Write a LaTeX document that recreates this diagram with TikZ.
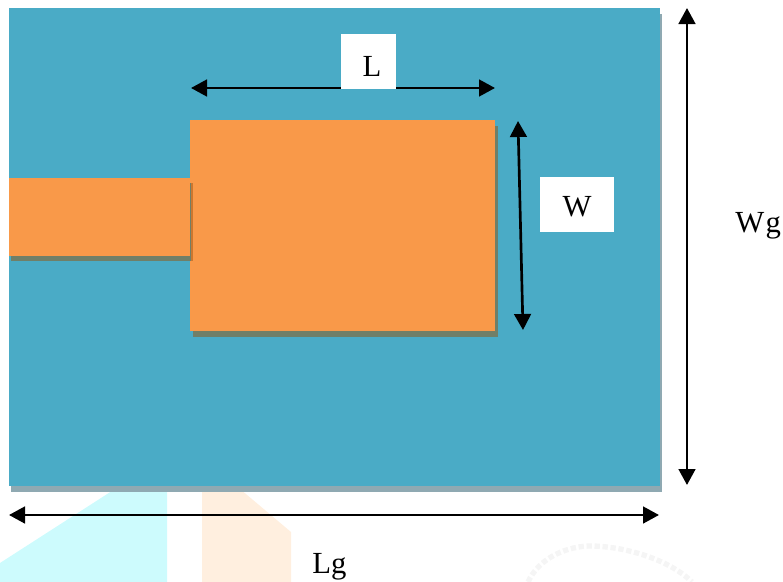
\documentclass[tikz,border=0pt]{standalone}
\usepackage{fontspec}
\setmainfont{Liberation Serif}
\usetikzlibrary{arrows.meta}
\definecolor{board}{HTML}{4AABC6}
\definecolor{boardshadow}{HTML}{8FA9B2}
\definecolor{patch}{HTML}{F99949}
\definecolor{patchshadow}{HTML}{707F68}
\definecolor{feededge}{HTML}{CC772F}
\definecolor{wmcyan}{HTML}{CDFBFD}
\definecolor{wmorange}{HTML}{FFEFDF}
\definecolor{wmgrey}{HTML}{F5F5F5}
\tikzset{
  dimline/.style={line width=2pt,{Triangle[length=12pt,width=12.5pt]}-{Triangle[length=12pt,width=12.5pt]}},
  labelbox/.style={fill=white,draw=none,inner sep=0pt,font=\fontsize{23}{26}\selectfont},
  plaintext/.style={inner sep=0pt,font=\fontsize{23}{26}\selectfont},
}
\begin{document}
\begin{tikzpicture}[x=0.75pt,y=-0.75pt]
\useasboundingbox (0,0) rectangle (783,582);
% watermark
\fill[wmcyan] (0,563) -- (115,489) -- (167,489) -- (167,582) -- (0,582) -- cycle;
\fill[wmorange] (202,489) -- (240,489) -- (291,532) -- (291,582) -- (202,582) -- cycle;
\draw[wmgrey,line width=4pt,dotted] (528,582) .. controls (540,556) and (570,546) .. (590,546) .. controls (625,546) and (670,560) .. (692,582);
% board
\fill[boardshadow] (11,14) rectangle (662,492);
\fill[board] (9,8) rectangle (660,486);
% patch
\fill[patchshadow] (193,126) rectangle (498,337);
\fill[patch] (190,120) rectangle (495,331);
% feed
\fill[patchshadow] (11,183) rectangle (193,261);
\fill[feededge] (191,183) rectangle (193,261);
\fill[patch] (9,178) rectangle (190,256);
% arrows
\coordinate (Ll) at (191,88);
\coordinate (Lr) at (495,88);
\coordinate (Wt) at (518,121);
\coordinate (Wb) at (523,330);
\coordinate (Gt) at (687,8);
\coordinate (Gb) at (687,485);
\coordinate (Hl) at (9,515);
\coordinate (Hr) at (659,515);
\draw[dimline] (Ll) -- (Lr);
\draw[dimline] (Wt) -- (Wb);
\draw[dimline] (Gt) -- (Gb);
\draw[dimline] (Hl) -- (Hr);
% labels
\node[labelbox,minimum width=41.25pt,minimum height=41.25pt] (Lbox) at (368.5,61.5) {};
\node[plaintext] (Ltext) at (372,66) {L};
\node[labelbox,minimum width=55.5pt,minimum height=41.25pt] (Wbox) at (577,204.5) {};
\node[plaintext] (Wtext) at (577,207) {W};
\node[plaintext,anchor=base west] (Wg) at (735,232) {W\kern1pt g};
\node[plaintext,anchor=base west] (Lg) at (312,573) {Lg};
\end{tikzpicture}
\end{document}
